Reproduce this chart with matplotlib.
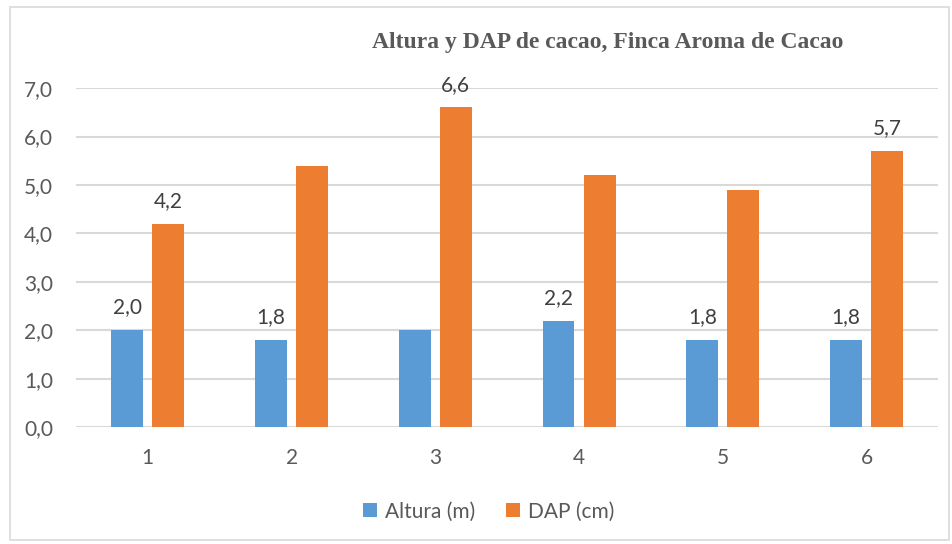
import matplotlib
matplotlib.use("Agg")
import matplotlib.pyplot as plt
from matplotlib.patches import Rectangle
import numpy as np

plt.rcParams['font.family'] = ['Lato', 'DejaVu Sans']

categories = ["1", "2", "3", "4", "5", "6"]
altura = [2.0, 1.8, 2.0, 2.2, 1.8, 1.8]
dap = [4.2, 5.4, 6.6, 5.2, 4.9, 5.7]
# which bars carry a value label
altura_labeled = [True, True, False, True, True, True]
dap_labeled = [True, False, True, False, False, True]
y_ticks = [0, 1, 2, 3, 4, 5, 6, 7]

blue = "#5b9bd5"
orange = "#ed7d31"
text_gray = "#595959"
label_gray = "#404040"
fs = 15

fig = plt.figure(figsize=(9.53, 5.44), dpi=100)
fig.patch.set_facecolor("white")
fig.add_artist(Rectangle((0.011, 0.007), 0.985, 0.98, transform=fig.transFigure,
                         fill=False, edgecolor="#d9d9d9", linewidth=1.2))

ax = fig.add_axes([0.0797, 0.215, 0.905, 0.623])
x = np.arange(1, len(categories) + 1)
w = 0.222
off = 0.143
b1 = ax.bar(x - off, altura, width=w, color=blue, zorder=3, label="Altura (m)")
b2 = ax.bar(x + off, dap, width=w, color=orange, zorder=3, label="DAP (cm)")

for bars, vals, flags in ((b1, altura, altura_labeled), (b2, dap, dap_labeled)):
    for rect, v, f in zip(bars, vals, flags):
        if f:
            ax.annotate(f"{v:.1f}".replace(".", ","),
                        (rect.get_x() + rect.get_width() / 2, v),
                        xytext=(0, 12), textcoords="offset points",
                        ha="center", va="baseline", fontsize=fs, color=label_gray)

ax.set_xlim(0.5, 6.5)
ax.set_ylim(0, 7)
ax.set_yticks(y_ticks)
ax.set_yticklabels([f"{t:.1f}".replace(".", ",") for t in y_ticks])
ax.set_xticks(x)
ax.set_xticklabels(categories)
ax.tick_params(axis="both", length=0, labelsize=fs, labelcolor=text_gray)
ax.tick_params(axis="y", pad=16.5)
ax.tick_params(axis="x", pad=15)
ax.grid(axis="y", color="#d9d9d9", linewidth=1.5, zorder=0)
for s in ax.spines.values():
    s.set_visible(False)

fig.text(0.638, 0.921, "Altura y DAP de cacao, Finca Aroma de Cacao",
         ha="center", va="center", fontsize=17, fontweight="bold",
         family="Liberation Serif", color=text_gray)

leg = fig.legend(handles=[b1, b2], loc="center", bbox_to_anchor=(0.513, 0.06),
                 ncol=2, frameon=False, fontsize=fs, handlelength=0.65,
                 handleheight=0.65, handletextpad=0.4, columnspacing=1.5)
for t in leg.get_texts():
    t.set_color(text_gray)

fig.savefig("out.png", dpi=100)
